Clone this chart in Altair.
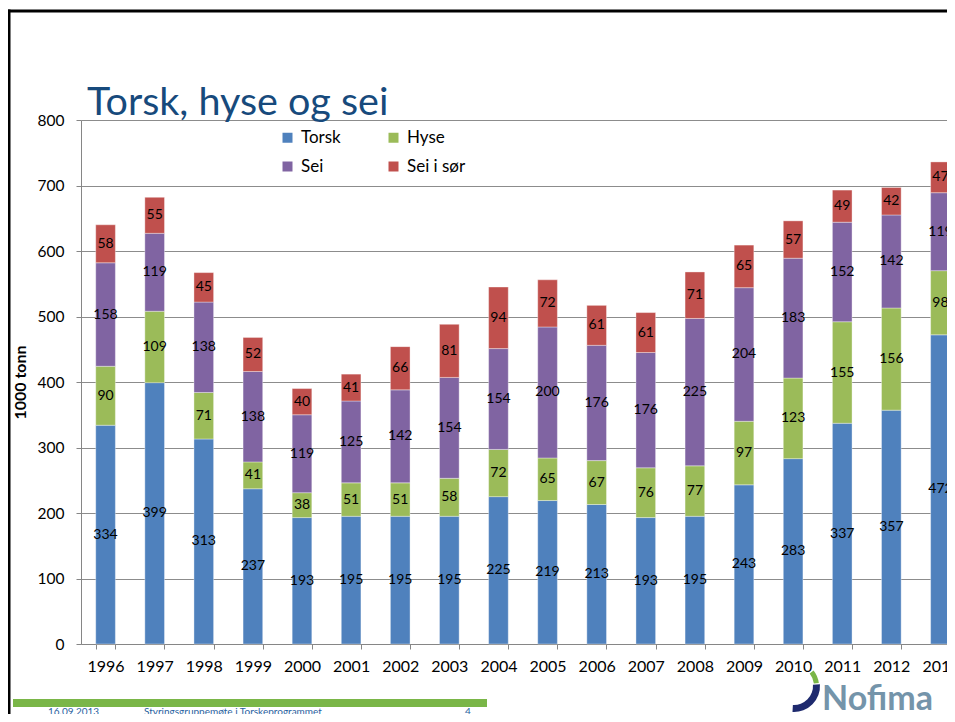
import altair as alt
import pandas as pd

years = [str(y) for y in range(1996, 2014)]
torsk = [334, 399, 313, 237, 193, 195, 195, 195, 225, 219, 213, 193, 195, 243, 283, 337, 357, 472]
hyse = [90, 109, 71, 41, 38, 51, 51, 58, 72, 65, 67, 76, 77, 97, 123, 155, 156, 98]
sei = [158, 119, 138, 138, 119, 125, 142, 154, 154, 200, 176, 176, 225, 204, 183, 152, 142, 119]
sei_sor = [58, 55, 45, 52, 40, 41, 66, 81, 94, 72, 61, 61, 71, 65, 57, 49, 42, 47]

series = ["Torsk", "Hyse", "Sei", "Sei i sør"]
colors = ["#4F81BD", "#9BBB59", "#8064A2", "#C0504D"]
y_ticks = [0, 100, 200, 300, 400, 500, 600, 700, 800]

rows = []
for i, name in enumerate(series):
    vals = [torsk, hyse, sei, sei_sor][i]
    for yr, v in zip(years, vals):
        rows.append({"year": yr, "series": name, "idx": i, "value": v})
df = pd.DataFrame(rows)

FONT = "Lato"
W, H = 884, 524

x_enc = alt.X("year:N", sort=years,
              scale=alt.Scale(paddingInner=0.6, paddingOuter=0.3),
              axis=alt.Axis(title=None, labelAngle=0, labelFont=FONT, labelFontSize=16,
                            labelColor="black", labelPadding=9, tickBand="extent",
                            tickColor="#868686", tickSize=5, domainColor="#868686",
                            grid=False))
y_axis = alt.Axis(values=y_ticks, title="1000 tonn", titleFont=FONT, titleFontSize=16,
                  titleFontWeight="bold", titleColor="black", titleAngle=-90,
                  titleX=-53, titleY=H / 2, titleBaseline="bottom", titleAlign="center",
                  labelFont=FONT, labelFontSize=15.5, labelColor="black", labelPadding=12,
                  tickSize=5, tickColor="#868686", domainColor="#868686",
                  grid=True, gridColor="#8C8C8C", gridWidth=1)

base = alt.Chart(df).transform_stack(
    stack="value", groupby=["year"], as_=["y0", "y1"],
    sort=[alt.SortField("idx", order="ascending")]
).transform_calculate(mid="(datum.y0 + datum.y1) / 2")

bars = base.mark_bar(stroke="white", strokeWidth=0.6, strokeOpacity=0.6).encode(
    x=x_enc,
    y=alt.Y("y0:Q", scale=alt.Scale(domain=[0, 800], nice=False), axis=y_axis),
    y2="y1:Q",
    color=alt.Color("series:N", scale=alt.Scale(domain=series, range=colors),
                    legend=alt.Legend(orient="none", legendX=198, legendY=9, columns=2,
                                      direction="horizontal",
                                      title=None, symbolType="square", symbolSize=100,
                                      symbolStrokeWidth=0, labelFont=FONT, labelFontSize=17,
                                      labelColor="black", columnPadding=44, rowPadding=11,
                                      labelOffset=5, padding=0)),
)

labels = base.mark_text(font=FONT, fontSize=14, color="black", baseline="middle").encode(
    x=alt.X("year:N", sort=years),
    y=alt.Y("mid:Q"),
    text="value:Q",
)

one = pd.DataFrame({"a": [0]})

title = alt.Chart(one).mark_text(text="Torsk, hyse og sei", font=FONT, fontSize=39.5,
                                 color="#174A7C", align="left", baseline="alphabetic").encode(
    x=alt.value(6), y=alt.value(-5))

frame_left = alt.Chart(one).mark_rule(color="black", strokeWidth=3).encode(
    x=alt.value(-72), y=alt.value(-110.5), y2=alt.value(610))
frame_top = alt.Chart(one).mark_rule(color="black", strokeWidth=3).encode(
    x=alt.value(-73.5), x2=alt.value(900), y=alt.value(-109))

green_bar = alt.Chart(one).mark_rule(color="#7AB648", strokeWidth=8).encode(
    x=alt.value(-68), x2=alt.value(406), y=alt.value(583))

foot_date = alt.Chart(one).mark_text(text="16.09.2013", font=FONT, fontSize=10,
                                     color="#2A62A0", align="left").encode(
    x=alt.value(-33), y=alt.value(592))
foot_title = alt.Chart(one).mark_text(text="Styringsgruppemøte i Torskeprogrammet", font=FONT,
                                      fontSize=10, color="#2A62A0", align="left").encode(
    x=alt.value(63), y=alt.value(592))
foot_num = alt.Chart(one).mark_text(text="4", font=FONT, fontSize=10,
                                    color="#2A62A0", align="left").encode(
    x=alt.value(384), y=alt.value(592))

logo_text = alt.Chart(one).mark_text(text="Nofima", font=FONT, fontSize=34, fontWeight="bold",
                                     color="#7494AA", align="left", baseline="alphabetic").encode(
    x=alt.value(741), y=alt.value(590))
swoosh_navy = alt.Chart(one).mark_arc(color="#1E2A6E", theta=1.5, theta2=3.2,
                                      innerRadius=19, outerRadius=26).encode(
    x=alt.value(713), y=alt.value(566))
swoosh_green = alt.Chart(one).mark_arc(color="#7AB648", theta=0.9, theta2=1.45,
                                       innerRadius=20, outerRadius=25).encode(
    x=alt.value(713), y=alt.value(566))

chart = alt.layer(
    bars, labels, title, frame_left, frame_top, green_bar,
    foot_date, foot_title, foot_num, logo_text, swoosh_navy, swoosh_green
).properties(
    width=W, height=H,
    autosize=alt.AutoSizeParams(type="none"),
    padding={"left": 73, "top": 112, "right": -18, "bottom": 70},
    background="white",
).configure_view(stroke=None)

chart.save("out.html", embed_options={"renderer": "svg", "actions": False})
